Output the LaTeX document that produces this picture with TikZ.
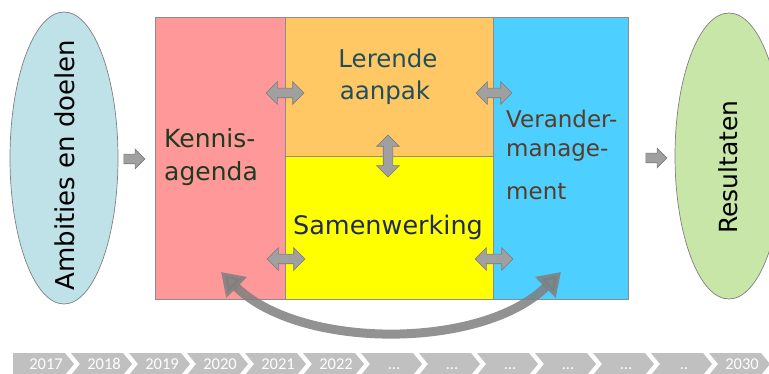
\documentclass[tikz,border=0pt]{standalone}
\usepackage{fontspec}
\setmainfont{DejaVu Sans}
\newfontfamily\tlfont{Carlito}
\usetikzlibrary{shapes.geometric,shapes.arrows,arrows.meta}
\definecolor{pinkbox}{HTML}{FF9999}
\definecolor{orangebox}{HTML}{FFC864}
\definecolor{yellowbox}{HTML}{FFFF00}
\definecolor{bluebox}{HTML}{4DCFFF}
\definecolor{ellblue}{HTML}{BFE1E8}
\definecolor{ellgreen}{HTML}{C8E6A7}
\definecolor{arrfill}{HTML}{A0A0A0}
\definecolor{arredge}{HTML}{7A7A7A}
\definecolor{bigarr}{HTML}{7F7F7F}
\definecolor{tlgray}{HTML}{C0C0C0}
\definecolor{kencol}{HTML}{1F3A1F}
\definecolor{lercol}{HTML}{1F4E5C}
\definecolor{samcol}{HTML}{1F2A5A}
\definecolor{vercol}{HTML}{5A3A28}
\newcommand\tlchev[4]{%
  \pgfmathsetmacro\cx{13+58*#1}%
  \fill[tlgray] (\cx,353) -- (\cx+52,353) -- (\cx+61,364) -- (\cx+52,375) -- (\cx,375) -- (\cx+#4,364) -- cycle;
  \node[tltext] (#2) at (\cx+33,370) {#3};
}
\begin{document}
\begin{tikzpicture}[x=1pt,y=-1pt,
  box/.style={draw=black!45, line width=0.8pt, anchor=north west, inner sep=0pt},
  ell/.style={ellipse, draw=black!50, line width=0.7pt, inner sep=0pt},
  dblarr/.style={double arrow, fill=arrfill, draw=arredge, line width=0.6pt,
    minimum height=38pt, minimum width=22pt, inner sep=4.5pt,
    double arrow head extend=6.5pt},
  sglarr/.style={single arrow, fill=arrfill, draw=arredge, line width=0.6pt,
    minimum height=21pt, minimum width=19pt, inner sep=4.5pt,
    single arrow head extend=5pt},
  tltext/.style={anchor=base, text=white, font=\tlfont\fontsize{16.5}{18}\selectfont, inner sep=0pt},
  lbl/.style={inner sep=0pt}
]
\useasboundingbox (0,0) rectangle (769,374);

% ellipses
\node[ell, fill=ellblue, minimum width=108pt, minimum height=292pt] (amb) at (64,158) {};
\node[lbl, rotate=90, font=\fontsize{26}{30}\selectfont] (ambt) at (65,165) {Ambities en doelen};
\node[ell, fill=ellgreen, minimum width=108pt, minimum height=286pt] (res) at (729,156) {};
\node[lbl, rotate=90, font=\fontsize{25}{30}\selectfont] (rest) at (728,167) {Resultaten};

% boxes
\node[box, fill=pinkbox, minimum width=130pt, minimum height=282pt] (ken) at (155,17) {};
\node[box, fill=orangebox, minimum width=208pt, minimum height=139pt] (ler) at (285,17) {};
\node[box, fill=yellowbox, minimum width=208pt, minimum height=143pt] (sam) at (285,156) {};
\node[box, fill=bluebox, minimum width=135pt, minimum height=282pt] (ver) at (493,17) {};

% box texts
\node[lbl, anchor=base west, text=kencol, font=\fontsize{25}{30}\selectfont] (ken1) at (164,148) {Kennis-};
\node[lbl, anchor=base west, text=kencol, font=\fontsize{25}{30}\selectfont] (ken2) at (164,181) {agenda};
\node[lbl, anchor=base, text=lercol, font=\fontsize{24.5}{30}\selectfont] (ler1) at (388,68) {Lerende};
\node[lbl, anchor=base, text=lercol, font=\fontsize{24.5}{30}\selectfont] (ler2) at (385,100) {aanpak};
\node[lbl, anchor=base, text=samcol, font=\fontsize{25.5}{30}\selectfont] (samt) at (388,235) {Samenwerking};
\node[lbl, anchor=base west, text=vercol, font=\fontsize{23}{28}\selectfont] (ver1) at (506,128) {Verander-};
\node[lbl, anchor=base west, text=vercol, font=\fontsize{23}{28}\selectfont] (ver2) at (506,157) {manage-};
\node[lbl, anchor=base west, text=vercol, font=\fontsize{23}{28}\selectfont] (ver3) at (506,200) {ment};

% small arrows
\node[sglarr] (a1) at (132,159) {};
\node[sglarr] (a2) at (654,158) {};
\node[dblarr] (d1) at (285,93) {};
\node[dblarr, minimum height=36pt] (d2) at (494,93) {};
\node[dblarr] (d3) at (286,259) {};
\node[dblarr] (d4) at (494,259) {};
\node[dblarr, rotate=90, minimum height=42pt, minimum width=20pt] (d5) at (388,156) {};

% big curved arrow
\coordinate (ca) at (221,272);
\coordinate (cb) at (561,272);
\draw[bigarr, draw opacity=0.85, fill opacity=0.85, line width=9pt,
  {Triangle[width=28pt,length=22pt]}-{Triangle[width=28pt,length=22pt]}]
  (ca) .. controls (300,350) and (482,350) .. (cb);

% timeline
\tlchev{0}{t0}{2017}{0}
\tlchev{1}{t1}{2018}{9}
\tlchev{2}{t2}{2019}{9}
\tlchev{3}{t3}{2020}{9}
\tlchev{4}{t4}{2021}{9}
\tlchev{5}{t5}{2022}{9}
\tlchev{6}{t6}{...}{9}
\tlchev{7}{t7}{...}{9}
\tlchev{8}{t8}{...}{9}
\tlchev{9}{t9}{...}{9}
\tlchev{10}{t10}{...}{9}
\tlchev{11}{t11}{..}{9}
\tlchev{12}{t12}{2030}{9}
\end{tikzpicture}
\end{document}
